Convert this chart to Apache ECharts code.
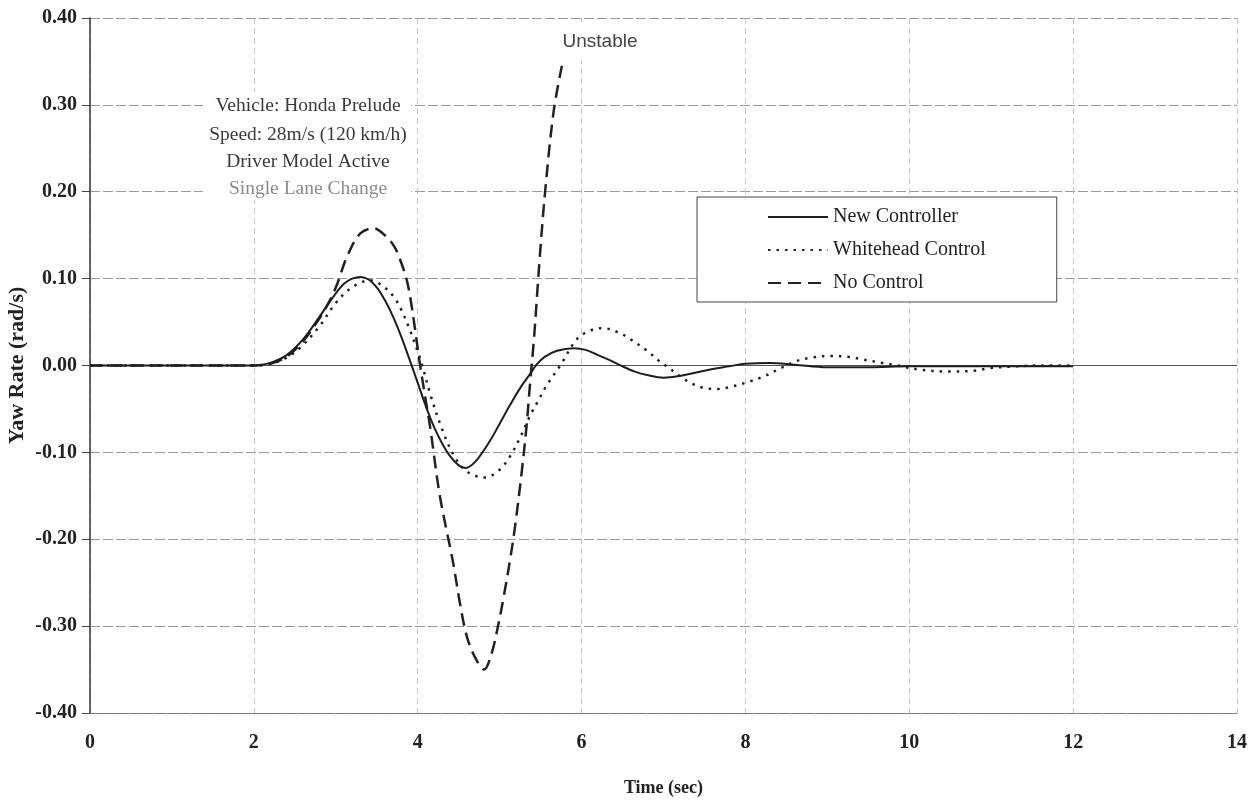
<!DOCTYPE html>
<html>
<head>
<meta charset="utf-8">
<script src="https://cdn.jsdelivr.net/npm/echarts@6/dist/echarts.min.js"></script>
<style>
  html, body { margin: 0; padding: 0; background: #fff; }
  #chart { width: 1257px; height: 800px; }
</style>
</head>
<body>
<div id="chart"></div>
<script>
// Yaw rate response, single lane change at 28 m/s
const seriesNames = ['New Controller', 'Whitehead Control', 'No Control'];

const timeNew = [0, 0.5, 1.0, 1.5, 2.0, 2.2, 2.4, 2.6, 2.8, 3.0, 3.1, 3.2, 3.3, 3.4, 3.5, 3.6, 3.7, 3.8, 3.9, 4.0,
  4.1, 4.2, 4.3, 4.4, 4.5, 4.58, 4.7, 4.88, 5.0, 5.13, 5.25, 5.37, 5.45, 5.55, 5.7, 5.9, 6.05, 6.2, 6.35, 6.5, 6.65, 6.8,
  7.0, 7.2, 7.4, 7.6, 7.8, 8.0, 8.3, 8.6, 9.0, 9.5, 10.0, 11.0, 12.0];
const yawNew = [0, 0, 0, 0, 0, 0.003, 0.012, 0.030, 0.056, 0.083, 0.094, 0.100, 0.102, 0.099, 0.090, 0.075, 0.056, 0.033, 0.007, -0.020,
  -0.047, -0.071, -0.090, -0.105, -0.115, -0.118, -0.111, -0.087, -0.067, -0.045, -0.026, -0.010, 0.001, 0.010, 0.017, 0.020, 0.018, 0.012, 0.006, -0.001, -0.007, -0.011,
  -0.014, -0.012, -0.008, -0.004, -0.001, 0.002, 0.003, 0.001, -0.002, -0.002, -0.001, -0.001, -0.001];

const timeWhitehead = [0, 0.5, 1.0, 1.5, 2.0, 2.2, 2.4, 2.56, 2.8, 3.0, 3.2, 3.42, 3.55, 3.7, 3.8, 3.9, 4.0, 4.05, 4.15, 4.3,
  4.45, 4.6, 4.82, 5.0, 5.13, 5.25, 5.37, 5.48, 5.58, 5.74, 5.94, 6.1, 6.26, 6.45, 6.6, 6.8, 6.95, 7.04, 7.2, 7.33,
  7.5, 7.66, 7.8, 8.0, 8.24, 8.43, 8.62, 8.8, 9.05, 9.25, 9.43, 9.67, 9.86, 10.14, 10.5, 10.8, 10.98, 11.3, 11.6, 12.0];
const yawWhitehead = [0, 0, 0, 0, 0, 0.002, 0.009, 0.020, 0.045, 0.072, 0.090, 0.098, 0.093, 0.080, 0.064, 0.042, 0.016, 0.002, -0.032, -0.074,
  -0.105, -0.122, -0.129, -0.120, -0.104, -0.083, -0.058, -0.039, -0.022, 0.000, 0.030, 0.040, 0.043, 0.038, 0.030, 0.017, 0.005, -0.001, -0.012, -0.020,
  -0.026, -0.027, -0.025, -0.020, -0.012, -0.003, 0.005, 0.009, 0.011, 0.010, 0.007, 0.003, 0.000, -0.005, -0.007, -0.006, -0.003, -0.001, 0.000, 0.000];

const timeNoControl = [0, 0.5, 1.0, 1.5, 2.0, 2.2, 2.4, 2.6, 2.77, 2.9, 3.01, 3.14, 3.3, 3.46, 3.62, 3.72, 3.8, 3.87, 3.92, 3.97,
  4.02, 4.08, 4.15, 4.27, 4.43, 4.52, 4.6, 4.7, 4.81, 4.9, 4.98, 5.05, 5.13, 5.19, 5.27, 5.33, 5.37, 5.42, 5.49, 5.56,
  5.66, 5.76];
const yawNoControl = [0, 0, 0, 0, 0, 0.002, 0.010, 0.028, 0.050, 0.070, 0.092, 0.126, 0.152, 0.158, 0.148, 0.136, 0.118, 0.097, 0.072, 0.040,
  0.006, -0.030, -0.070, -0.150, -0.226, -0.276, -0.312, -0.336, -0.350, -0.332, -0.300, -0.266, -0.222, -0.184, -0.122, -0.068, -0.022, 0.032, 0.125, 0.205,
  0.293, 0.345];

const xTicks = { min: 0, max: 14, interval: 2 };
const yTicks = { min: -0.4, max: 0.4, interval: 0.1 };

const annotationLines = ['Vehicle: Honda Prelude', 'Speed: 28m/s (120 km/h)', 'Driver Model Active', 'Single Lane Change'];
const unstableLabel = 'Unstable';

const pairs = (t, v) => t.map((x, i) => [x, v[i]]);

const SERIF = "'Liberation Serif', 'Times New Roman', serif";
const SANS = "'Liberation Sans', Arial, sans-serif";

const chart = echarts.init(document.getElementById('chart'), null, { renderer: 'canvas' });

const option = {
  backgroundColor: '#fff',
  animation: false,
  grid: { left: 90, right: 20, top: 18, bottom: 87, containLabel: false, outerBoundsMode: 'none' },
  xAxis: {
    type: 'value',
    min: xTicks.min, max: xTicks.max, interval: xTicks.interval,
    name: 'Time (sec)',
    nameLocation: 'middle',
    nameGap: 66,
    nameMoveOverlap: false,
    nameTextStyle: { fontFamily: SERIF, fontWeight: 'bold', fontSize: 18, color: '#222' },
    axisLine: { onZero: false, lineStyle: { color: '#777', width: 1, type: [2, 1] } },
    axisTick: { show: false },
    axisLabel: { fontFamily: SERIF, fontWeight: 'bold', fontSize: 20, color: '#222', margin: 20 },
    splitLine: { show: true, lineStyle: { color: '#c4c4c4', width: 1, type: [6, 4] } }
  },
  yAxis: {
    type: 'value',
    min: yTicks.min, max: yTicks.max, interval: yTicks.interval,
    name: 'Yaw Rate (rad/s)',
    nameLocation: 'middle',
    nameGap: 62,
    nameMoveOverlap: false,
    nameRotate: 90,
    nameTextStyle: { fontFamily: SERIF, fontWeight: 'bold', fontSize: 22, color: '#222' },
    axisLine: { onZero: false, lineStyle: { color: '#333', width: 1.5 } },
    axisTick: { show: true, inside: false, length: 8, lineStyle: { color: '#444', width: 1 } },
    axisLabel: {
      fontFamily: SERIF, fontWeight: 'bold', fontSize: 20, color: '#222', margin: 13,
      formatter: v => (Math.abs(v) < 1e-9 ? 0 : v).toFixed(2)
    },
    splitLine: { show: true, lineStyle: { color: '#999', width: 1, type: [10, 3] } }
  },
  legend: {
    orient: 'vertical',
    left: 697, top: 197,
    padding: [10, 71, 9, 70],
    itemGap: 13,
    itemWidth: 60,
    itemHeight: 14,
    backgroundColor: '#fff',
    borderColor: '#444',
    borderWidth: 1,
    borderRadius: 0,
    itemStyle: { opacity: 0 },
    textStyle: { fontFamily: SERIF, fontSize: 20, color: '#222' },
    data: seriesNames
  },
  series: [
    {
      name: seriesNames[0],
      type: 'line',
      data: pairs(timeNew, yawNew),
      smooth: 0.35,
      symbol: 'none',
      showSymbol: false,
      z: 4,
      lineStyle: { color: '#1e1e1e', width: 2, type: 'solid' },
      itemStyle: { color: '#1e1e1e' },
      markLine: {
        silent: true,
        symbol: 'none',
        label: { show: false },
        lineStyle: { color: '#555', width: 1.2, type: 'solid' },
        data: [{ yAxis: 0 }],
        z: 1
      }
    },
    {
      name: seriesNames[1],
      type: 'line',
      data: pairs(timeWhitehead, yawWhitehead),
      smooth: 0.35,
      symbol: 'none',
      showSymbol: false,
      z: 3,
      lineStyle: { color: '#222', width: 2.5, type: [2.5, 6], cap: 'butt' },
      itemStyle: { color: '#222' }
    },
    {
      name: seriesNames[2],
      type: 'line',
      data: pairs(timeNoControl, yawNoControl),
      smooth: 0.35,
      symbol: 'none',
      showSymbol: false,
      z: 2,
      lineStyle: { color: '#222', width: 2.5, type: [13, 7] },
      itemStyle: { color: '#222' }
    }
  ],
  graphic: [
    { type: 'rect', z: 50, shape: { x: 203, y: 92, width: 208, height: 108 }, style: { fill: '#fff' }, silent: true },
    { type: 'text', z: 51, x: 308, y: 106, style: { text: annotationLines[0], font: "19.5px " + SERIF, fill: '#3a3a3a', align: 'center', verticalAlign: 'middle' } },
    { type: 'text', z: 51, x: 308, y: 135, style: { text: annotationLines[1], font: "19.5px " + SERIF, fill: '#3a3a3a', align: 'center', verticalAlign: 'middle' } },
    { type: 'text', z: 51, x: 308, y: 162, style: { text: annotationLines[2], font: "19.5px " + SERIF, fill: '#3a3a3a', align: 'center', verticalAlign: 'middle' } },
    { type: 'text', z: 51, x: 308, y: 189, style: { text: annotationLines[3], font: "19.5px " + SERIF, fill: '#8a8a8a', align: 'center', verticalAlign: 'middle' } },
    { type: 'rect', z: 50, shape: { x: 556, y: 22, width: 90, height: 38 }, style: { fill: '#fff' }, silent: true },
    { type: 'text', z: 51, x: 600, y: 42, style: { text: unstableLabel, font: "19px " + SANS, fill: '#444', align: 'center', verticalAlign: 'middle' } }
  ]
};

chart.setOption(option);
</script>
</body>
</html>
